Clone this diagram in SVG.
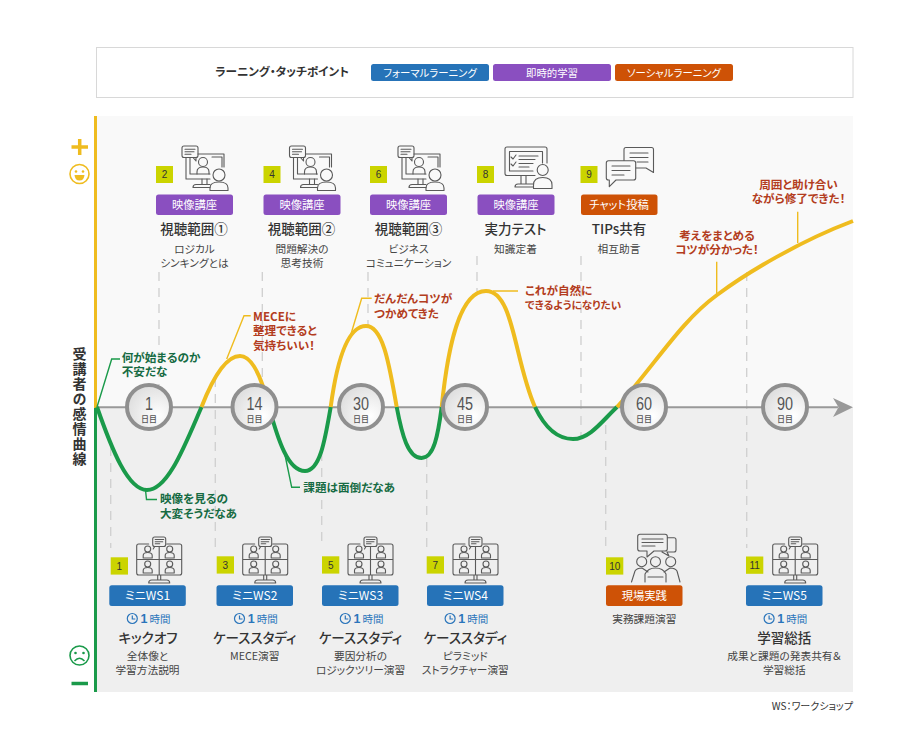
<svg xmlns="http://www.w3.org/2000/svg" width="901" height="732" viewBox="0 0 901 732">
<style>
text{font-family:"Noto Sans CJK JP","Noto Sans",sans-serif;font-feature-settings:"palt";fill:#333;text-anchor:middle}
.btn{font-size:10.4px;fill:#fff}
.bt{font-size:11.3px;fill:#fff}
.wsb{font-size:12px;fill:#fff}
.ti{font-size:13.5px;font-weight:500;fill:#333}
.su{font-size:10.7px;fill:#444}
.g{font-size:11.6px;font-weight:700;fill:#166b43;text-anchor:start}
.r{font-size:11.6px;font-weight:700;fill:#b33c20;text-anchor:start}
.rc{font-size:11.6px;font-weight:700;fill:#b33c20}
.n{font-family:"Liberation Sans",sans-serif;font-size:10px;fill:#333}
.day{font-family:"Liberation Sans",sans-serif;font-size:19px;fill:#555}
.nic{font-size:8px;fill:#555;font-weight:500}
.h{font-size:10.5px;fill:#2a75bb}
.h1{font-family:"Liberation Sans",sans-serif;font-size:12.5px;fill:#2a75bb;font-weight:700}
.sq{fill:#cbd400}
.pu{fill:#8a4fc0}.bl{fill:#2673b8}.or{fill:#ce5206}
.ic{fill:none;stroke:#5a5a5a;stroke-width:1.1;stroke-linecap:round;stroke-linejoin:round}
.dash{stroke:#cfcfcf;stroke-width:1.3;stroke-dasharray:9 7;fill:none}
.y{fill:none;stroke:#efbc1f;stroke-width:4}
.gr{fill:none;stroke:#1a9a4a;stroke-width:4}
.ly{fill:none;stroke:#efbc1f;stroke-width:1.4}
.lg{fill:none;stroke:#1a9a4a;stroke-width:1.4}
.cir{fill:url(#cg);stroke:#8f8f8f;stroke-width:4}
</style>
<defs>
<radialGradient id="cg" cx="0.7" cy="0.7" r="0.8"><stop offset="0" stop-color="#fff"/><stop offset="1" stop-color="#dcdcdc"/></radialGradient>
<symbol id="video" overflow="visible">
<g class="ic">
<rect x="0" y="0" width="16" height="11.5" rx="2"/><path d="M3,3.2H13M3,5.8H12M3,8.3H9M11,11.5L14,15V11.5"/>
<path d="M4,12V33H28M8,12V28H28M16,8H42V21M30,11H40V21"/>
<circle cx="21" cy="16" r="4.5"/><path d="M15,28V26Q15,21 21,21Q27,21 27,26V28"/>
<path d="M20,33V38M25,33V38M11,41.5H28M11,41.5Q11,38.5 14,38.5H28"/>
<circle cx="37" cy="29" r="6"/><path d="M28,44.5V42Q28,36 37,36Q46,36 46,42V44.5Z"/>
</g>
</symbol>
<symbol id="p" overflow="visible"><g class="ic"><circle cx="0" cy="-7" r="3"/><path d="M-4.5,2V-0.5Q-4.5,-3.5 0,-3.5Q4.5,-3.5 4.500,-0.5V2Z"/></g></symbol>
<symbol id="ws" overflow="visible">
<g class="ic">
<path d="M12,0H2Q0,0 0,2V29Q0,31 2,31H43Q45,31 45,29V2Q45,0 43,0H30M22.5,3V31M0,15.5H45M21,31V36M24,31V36M17,36H28M12,39H33M12,39Q12,36 15,36H30Q33,36 33,39Z"/>
<rect x="16" y="-7" width="13" height="9.5" rx="2"/><path d="M18.5,-4.5H27M18.500,-2.3H26M18.500,-0.2H23M18,2.5L16.500,5"/>
</g>
<use href="#p" x="11" y="12"/><use href="#p" x="33" y="12"/><use href="#p" x="11" y="27"/><use href="#p" x="33" y="27"/>
</symbol>
<symbol id="clock" overflow="visible"><g fill="none" stroke="#2a75bb" stroke-width="1.2"><circle cx="0" cy="0" r="5"/><path d="M0,-3V0.5H3"/></g></symbol>
</defs>

<rect id="panel-upper" x="97" y="116" width="756" height="292" fill="#f9f9f9"/>
<rect id="panel-lower" x="97" y="408" width="756" height="284" fill="#efefef"/>

<g id="legend">
<rect x="96.500" y="47.500" width="756.500" height="50" fill="#fff" stroke="#d8d8d8" stroke-width="1"/>
<text x="282" y="76" style="font-size:11.600px;font-weight:700">ラーニング・タッチポイント</text>
<rect class="bl" x="371" y="64" width="118" height="17" rx="2.500"/><text class="btn" x="430" y="76.500">フォーマルラーニング</text>
<rect class="pu" x="493" y="64" width="118" height="17" rx="2.500"/><text class="btn" x="552" y="76.500">即時的学習</text>
<rect class="or" x="615" y="64" width="118" height="17" rx="2.500"/><text class="btn" x="674" y="76.500">ソーシャルラーニング</text>
</g>

<g id="axis-left">
<rect x="94" y="116" width="3" height="292" fill="#efbc1f"/>
<rect x="94" y="408" width="3" height="284" fill="#1a9a4a"/>
<path d="M71.500,147H88M79.700,139V155" stroke="#efbc1f" stroke-width="3.500" fill="none"/>
<circle cx="79.500" cy="174" r="9.500" fill="#fff" stroke="#efbc1f" stroke-width="1.600"/>
<circle cx="76" cy="171.500" r="1.300" fill="#efbc1f"/><circle cx="83" cy="171.500" r="1.300" fill="#efbc1f"/>
<path d="M74.500,175H84.500Q84,180.500 79.500,180.500Q75,180.500 74.500,175Z" fill="#efbc1f"/>
<circle cx="79.500" cy="655.500" r="9.500" fill="#fff" stroke="#1a9a4a" stroke-width="1.600"/>
<circle cx="75.500" cy="653" r="1.300" fill="#1a9a4a"/><circle cx="83.500" cy="653" r="1.300" fill="#1a9a4a"/>
<path d="M74.500,661Q79.500,655.500 84.500,661" fill="none" stroke="#1a9a4a" stroke-width="1.500"/>
<path d="M71.500,683.500H88" stroke="#1a9a4a" stroke-width="3.500" fill="none"/>
<text x="79.500" y="347" style="writing-mode:vertical-rl;text-anchor:start;font-size:14px;font-weight:700;letter-spacing:1px;fill:#333">受講者の感情曲線</text>
</g>

<g id="connectors">
<g id="dashes">
<path class="dash" d="M159,272V385M262.300,272V385M368,272V326M477,256V291M581,256V437M746.700,272V548M110.700,447V548M215.300,378V548M321.700,452V548M426.700,458V548M605.700,425V548"/>
</g>
<path d="M97,407.300H838" stroke="#999" stroke-width="2" fill="none"/>
<path d="M833,398L853,407.300L833,417L838.500,407.300Z" fill="#999"/>
<g id="callouts">
<path class="lg" d="M97,407L111.700,359H120M145.500,490L146.500,499.500H157M285,455L291.700,487.300H300"/>
<path class="ly" d="M226.700,359L244,315.700H250.700M350.700,335L361.700,298.300H371.700M493,291H518M716.700,261.700V295M797.700,211.700V243"/>
</g>
<g id="curve">
<path class="gr" d="M97,407C112,450 128,490 147,490C168,490 185,445 201.500,407"/>
<path class="y" d="M201.500,407C212,380 225,356 240,356C254,356 263,383 269,407"/>
<path class="gr" d="M269,407C278,440 288,471 305,471C320,471 325,440 330.700,407"/>
<path class="y" d="M330.700,407C337,360 348,326 366,326C384,326 390,370 396.700,407"/>
<path class="gr" d="M396.700,407C402,435 408,458 421.500,458C434,458 438,435 441.700,407"/>
<path class="y" d="M441.700,407C448,345 460,291 486,291C514,291 514,360 535,407"/>
<path class="gr" d="M535,407C545,428 558,439 573,439C590,439 603,420 617,407"/>
<path class="y" d="M617,407C655,365 680,322 717,295C748,272 800,241 853,221"/>
</g>
</g>

<g id="days">
<g id="d1"><circle class="cir" cx="149" cy="407" r="22"/><text class="day" x="149" y="410" textLength="8" lengthAdjust="spacingAndGlyphs">1</text><text class="nic" x="149" y="422">日目</text></g>
<g id="d14"><circle class="cir" cx="254.500" cy="407" r="22"/><text class="day" x="254.500" y="410" textLength="16" lengthAdjust="spacingAndGlyphs">14</text><text class="nic" x="254.500" y="422">日目</text></g>
<g id="d30"><circle class="cir" cx="361" cy="407" r="22"/><text class="day" x="361" y="410" textLength="16" lengthAdjust="spacingAndGlyphs">30</text><text class="nic" x="361" y="422">日目</text></g>
<g id="d45"><circle class="cir" cx="465" cy="407" r="22"/><text class="day" x="465" y="410" textLength="16" lengthAdjust="spacingAndGlyphs">45</text><text class="nic" x="465" y="422">日目</text></g>
<g id="d60"><circle class="cir" cx="644" cy="407" r="22"/><text class="day" x="644" y="410" textLength="16" lengthAdjust="spacingAndGlyphs">60</text><text class="nic" x="644" y="422">日目</text></g>
<g id="d90"><circle class="cir" cx="785" cy="407" r="22"/><text class="day" x="785" y="410" textLength="16" lengthAdjust="spacingAndGlyphs">90</text><text class="nic" x="785" y="422">日目</text></g>
</g>

<g id="comments">
<text class="g" x="121.700" y="362">何が始まるのか</text><text class="g" x="121.700" y="376">不安だな</text>
<text class="g" x="160" y="503">映像を見るの</text><text class="g" x="160" y="517.500">大変そうだなあ</text>
<text class="g" x="303.300" y="492">課題は面倒だなあ</text>
<text class="r" x="253" y="320.500">MECEに</text><text class="r" x="253" y="335">整理できると</text><text class="r" x="253" y="349.500">気持ちいい！</text>
<text class="r" x="374" y="303">だんだんコツが</text><text class="r" x="374" y="317.500">つかめてきた</text>
<text class="r" x="525" y="294.500">これが自然に</text><text class="r" x="525" y="309" style="font-size:10.600px">できるようになりたい</text>
<text class="rc" x="717" y="240">考えをまとめる</text><text class="rc" x="717" y="254">コツが分かった！</text>
<text class="rc" x="798.500" y="189">周囲と助け合い</text><text class="rc" x="798.500" y="203">ながら修了できた！</text>
</g>

<g id="node-2"><use href="#video" x="182" y="146"/><rect class="sq" x="156" y="166" width="17" height="17"/><text class="n" x="164.500" y="178">2</text><rect class="pu" x="156" y="194.500" width="77" height="20.500" rx="2.500"/><text class="bt" x="194.500" y="209">映像講座</text><text class="ti" x="194" y="234">視聴範囲①</text><text class="su" x="194.500" y="253">ロジカル</text><text class="su" x="194.500" y="267">シンキングとは</text></g>
<g id="node-4"><use href="#video" x="289.500" y="146"/><rect class="sq" x="263.500" y="166" width="17" height="17"/><text class="n" x="272" y="178">4</text><rect class="pu" x="263.500" y="194.500" width="77" height="20.500" rx="2.500"/><text class="bt" x="302" y="209">映像講座</text><text class="ti" x="301.500" y="234">視聴範囲②</text><text class="su" x="302" y="253">問題解決の</text><text class="su" x="302" y="267">思考技術</text></g>
<g id="node-6"><use href="#video" x="398" y="146"/><rect class="sq" x="370" y="166" width="17" height="17"/><text class="n" x="378.500" y="178">6</text><rect class="pu" x="370" y="194.500" width="77" height="20.500" rx="2.500"/><text class="bt" x="408.500" y="209">映像講座</text><text class="ti" x="408.500" y="234">視聴範囲③</text><text class="su" x="408.500" y="253">ビジネス</text><text class="su" x="408.500" y="267">コミュニケーション</text></g>
<g id="node-8">
<g class="ic"><path d="M535,175.500H507Q505,175.500 505,173.500V149Q505,147 507,147H545Q547,147 547,149V163M509.500,171V151.500H542.500V163M509.500,171H533M521,175.500V184M526,175.500V184M515,187H533M515,187Q515,184 518,184H533"/><path d="M511,157L513,159L516,155M511,164L513,166L516,162M519,156H538M519,159.500H535M519,163.500H533M519,167H529"/><circle cx="542.700" cy="170" r="5.500"/><path d="M533.500,188.500V185Q533.500,177.500 542.700,177.500Q552,177.500 552,185V188.500Z"/></g>
<rect class="sq" x="477" y="166" width="17" height="17"/><text class="n" x="485.500" y="178">8</text><rect class="pu" x="477.500" y="194.500" width="77" height="20.500" rx="2.500"/><text class="bt" x="516" y="209">映像講座</text><text class="ti" x="515.500" y="234">実力テスト</text><text class="su" x="515.500" y="253">知識定着</text></g>
<g id="node-9">
<g class="ic"><path d="M624,160.500V149.500Q624,147.500 626,147.500H651.500Q653.500,147.500 653.500,149.500V172.500L646,168H636M630,153H648M630,157.500H648M637,162H648"/><path d="M608.500,160.700H633.500Q635.700,160.700 635.700,163V178Q635.700,180 633.500,180H616L609.300,186.700V180H608.500Q606.300,180 606.300,178V163Q606.300,160.700 608.500,160.700ZM612,166H630M612,170.500H630M612,175H624"/></g>
<rect class="sq" x="580.500" y="166" width="17" height="17"/><text class="n" x="589" y="178">9</text><rect class="or" x="581" y="194.500" width="76.500" height="20.500" rx="2.500"/><text class="bt" x="619" y="209">チャット投稿</text><text class="ti" x="619" y="234">TIPs共有</text><text class="su" x="619" y="253">相互助言</text></g>

<g id="node-1"><use href="#ws" x="136.700" y="544"/><rect class="sq" x="110.700" y="557.300" width="17.300" height="17.300"/><text class="n" x="119.300" y="569.500">1</text><rect class="bl" x="109.300" y="585.300" width="76.500" height="20.700" rx="2.500"/><text class="wsb" x="147.500" y="600">ミニWS1</text><use href="#clock" x="132.300" y="618.500"/><text class="h1" x="144" y="623">1</text><text class="h" x="160" y="622.500">時間</text><text class="ti" x="148" y="643">キックオフ</text><text class="su" x="147.500" y="660">全体像と</text><text class="su" x="147.500" y="673.500">学習方法説明</text></g>
<g id="node-3"><use href="#ws" x="242.700" y="544"/><rect class="sq" x="216.700" y="556.300" width="17.300" height="17.300"/><text class="n" x="225.300" y="568.500">3</text><rect class="bl" x="216.500" y="585.300" width="76.500" height="20.700" rx="2.500"/><text class="wsb" x="254.700" y="600">ミニWS2</text><use href="#clock" x="239.500" y="618.500"/><text class="h1" x="251.200" y="623">1</text><text class="h" x="267.200" y="622.500">時間</text><text class="ti" x="254.700" y="643">ケーススタディ</text><text class="su" x="254.700" y="660">MECE演習</text></g>
<g id="node-5"><use href="#ws" x="348" y="544"/><rect class="sq" x="322" y="556.300" width="17.300" height="17.300"/><text class="n" x="330.700" y="568.500">5</text><rect class="bl" x="322" y="585.300" width="76.500" height="20.700" rx="2.500"/><text class="wsb" x="360.500" y="600">ミニWS3</text><use href="#clock" x="345.300" y="618.500"/><text class="h1" x="357" y="623">1</text><text class="h" x="373" y="622.500">時間</text><text class="ti" x="360.500" y="643">ケーススタディ</text><text class="su" x="360.500" y="660">要因分析の</text><text class="su" x="360.500" y="673.500">ロジックツリー演習</text></g>
<g id="node-7"><use href="#ws" x="453" y="544"/><rect class="sq" x="426.700" y="556.300" width="17.300" height="17.300"/><text class="n" x="435.300" y="568.500">7</text><rect class="bl" x="427" y="585.300" width="76.500" height="20.700" rx="2.500"/><text class="wsb" x="465.300" y="600">ミニWS4</text><use href="#clock" x="450.100" y="618.500"/><text class="h1" x="461.800" y="623">1</text><text class="h" x="477.800" y="622.500">時間</text><text class="ti" x="465.300" y="643">ケーススタディ</text><text class="su" x="465.300" y="660">ピラミッド</text><text class="su" x="465.300" y="673.500">ストラクチャー演習</text></g>
<g id="node-10">
<g class="ic"><path d="M640,534.300H665Q667.300,534.300 667.300,536.500V549Q667.300,551 665,551H654L647,557V551H640Q637.700,551 637.700,549V536.500Q637.700,534.300 640,534.300ZM642,539H663M642,542.500H663M642,546H655M667.300,537.700H674Q676,537.700 676,539.700V550Q676,552 674,552H667L669,556L662,552"/><circle cx="641.700" cy="561.700" r="5"/><circle cx="655.500" cy="561.700" r="5"/><circle cx="670.700" cy="561.700" r="5"/><path d="M631.500,582L635,571Q637,568 642,568L648,572M680,582L677,571Q675,568 670,568L664,572M645,582V574Q648,568 655.500,568Q663,568 666,574V582M648,577H663"/></g>
<rect class="sq" x="606" y="557.300" width="17.300" height="17.300"/><text class="n" x="614.700" y="569.500">10</text><rect class="or" x="606" y="585.300" width="76.500" height="20.700" rx="2.500"/><text class="bt" x="644.300" y="600">現場実践</text><text class="su" x="644.300" y="623">実務課題演習</text></g>
<g id="node-11"><use href="#ws" x="772.700" y="544"/><rect class="sq" x="746" y="556.500" width="17.300" height="17.300"/><text class="n" x="754.700" y="568.700">11</text><rect class="bl" x="746" y="585.300" width="76.500" height="20.700" rx="2.500"/><text class="wsb" x="784.300" y="600">ミニWS5</text><use href="#clock" x="769.100" y="618.500"/><text class="h1" x="780.800" y="623">1</text><text class="h" x="796.800" y="622.500">時間</text><text class="ti" x="784.300" y="643">学習総括</text><text class="su" x="784.300" y="660">成果と課題の発表共有＆</text><text class="su" x="784.300" y="673.500">学習総括</text></g>

<text id="note" x="853" y="710" style="text-anchor:end;font-size:10px;fill:#333">WS：ワークショップ</text>
</svg>
